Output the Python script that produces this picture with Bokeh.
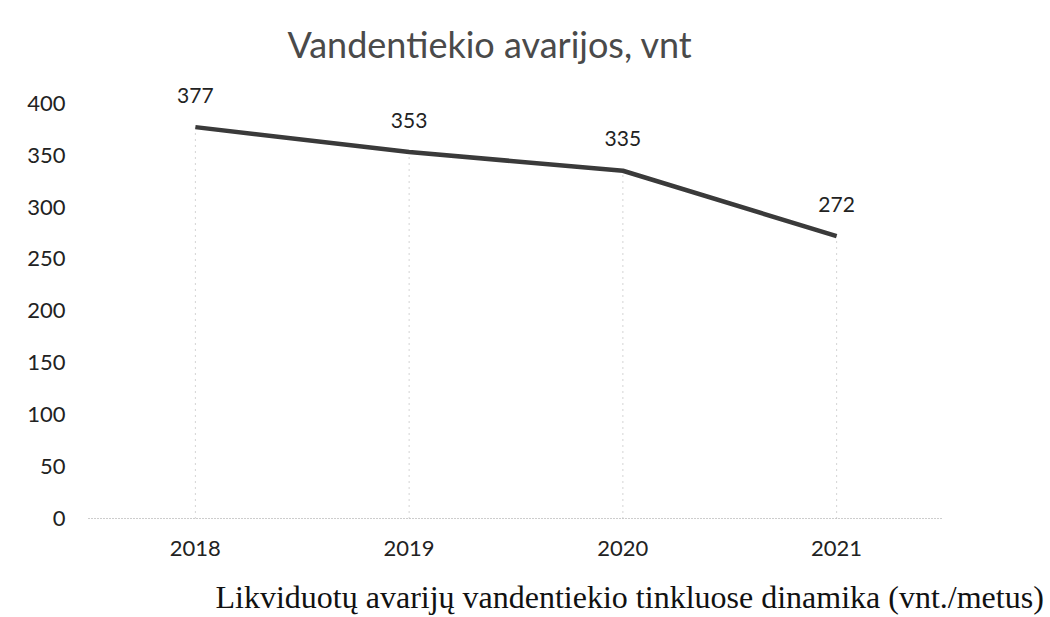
from bokeh.plotting import figure
from bokeh.models import Range1d, FactorRange, FixedTicker, Label, ColumnDataSource
from bokeh.core.properties import value
from bokeh.embed import file_html
from bokeh.resources import INLINE

years = ["2018", "2019", "2020", "2021"]
counts = [377, 353, 335, 272]
y_ticks = [0, 50, 100, 150, 200, 250, 300, 350, 400]
title_text = "Vandentiekio avarijos, vnt"
caption_text = "Likviduotų avarijų vandentiekio tinkluose dinamika (vnt./metus)"

src = ColumnDataSource(dict(
    year=years,
    count=counts,
    base=[0] * len(counts),
    label=[str(c) for c in counts],
))

p = figure(
    x_range=FactorRange(*years),
    y_range=Range1d(0, 420),
    width=1050, height=617,
    output_backend="svg", toolbar_location=None,
    min_border_left=88, min_border_right=107,
    min_border_top=82, min_border_bottom=99,
)
p.outline_line_color = None
p.xgrid.grid_line_color = None
p.ygrid.grid_line_color = None
p.background_fill_color = "white"
p.border_fill_color = "white"

# drop lines
p.segment(x0="year", y0="base", x1="year", y1="count", source=src,
          line_color="#a8a8a8", line_dash="1 5", line_width=1)

# main line
p.line("year", "count", source=src, line_width=4.5, line_color="#3a3a3a",
       line_join="round")

# data labels
p.text(x="year", y="count", text="label", source=src,
       text_align="center", text_baseline="alphabetic", y_offset=-32,
       text_font=value("Lato"), text_font_size="21px", text_color="#222222")

# axes
p.yaxis.ticker = FixedTicker(ticks=y_ticks)
p.yaxis.axis_line_color = None
p.yaxis.major_tick_line_color = None
p.yaxis.major_tick_out = 0
p.yaxis.major_tick_in = 0
p.yaxis.minor_tick_line_color = None
p.yaxis.major_label_standoff = 23
p.yaxis.major_label_text_font = "Lato"
p.yaxis.major_label_text_font_size = "22px"
p.yaxis.major_label_text_color = "#222222"

p.xaxis.axis_line_color = "#9a9a9a"
p.xaxis.axis_line_dash = "1 2"
p.xaxis.major_tick_line_color = None
p.xaxis.major_tick_out = 0
p.xaxis.major_tick_in = 0
p.xaxis.minor_tick_line_color = None
p.xaxis.major_label_standoff = 22
p.xaxis.major_label_text_font = "Lato"
p.xaxis.major_label_text_font_size = "22px"
p.xaxis.major_label_text_color = "#222222"

# title and caption as labels in the side panels (not clipped to the frame)
p.add_layout(Label(x=199, y=39, x_units="screen", y_units="screen",
                   text=title_text, text_align="left", text_baseline="alphabetic",
                   text_font="Lato", text_font_size="36px", text_color="#4a4a4a"),
             "above")
p.add_layout(Label(x=127, y=-2, x_units="screen", y_units="screen",
                   text=caption_text, text_align="left", text_baseline="alphabetic",
                   text_font="Liberation Serif", text_font_size="32px",
                   text_color="#111111"),
             "below")

open("out.html", "w").write(file_html(p, INLINE))
